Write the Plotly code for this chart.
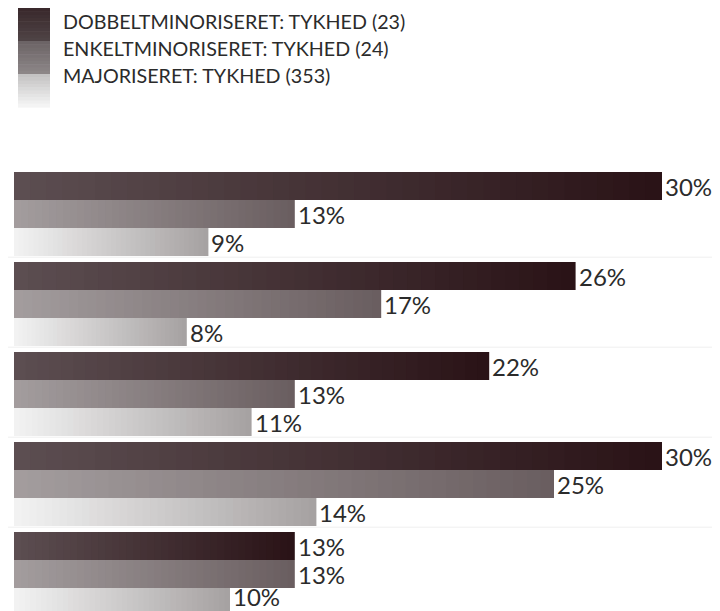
import plotly.graph_objects as go

# ---------------- data ----------------
groups = ["1", "2", "3", "4", "5"]
series_names = [
    "DOBBELTMINORISERET: TYKHED (23)",
    "ENKELTMINORISERET: TYKHED (24)",
    "MAJORISERET: TYKHED (353)",
]
dobbelt = [30, 26, 22, 30, 13]
enkelt = [13, 17, 13, 25, 13]
major = [9, 8, 11, 14, 10]

# ---------------- style ----------------
PAGE_OFF = 8                      # browser body margin
W, H = 720 - PAGE_OFF, 611 - PAGE_OFF
ML, MR, MT, MB = 14 - PAGE_OFF, 0, 169 - PAGE_OFF, 0
PX_PER_PCT = 21.6
GROUP_PX = 90.0
BAR_PX = 28.0
LABEL_SIZE = 24

# (left colour, right colour) for each series gradient
grad = [
    ((0x5d, 0x4f, 0x52), (0x2a, 0x13, 0x17)),
    ((0xa4, 0x9e, 0x9f), (0x6a, 0x5e, 0x60)),
    ((0xf4, 0xf4, 0xf4), (0xa6, 0xa2, 0xa2)),
]
# legend swatch (top colour, bottom colour) per section
swatch = [
    ((0x3a, 0x29, 0x2c), (0x4e, 0x43, 0x45)),
    ((0x6c, 0x64, 0x66), (0x8c, 0x86, 0x87)),
    ((0xc4, 0xc3, 0xc3), (0xf4, 0xf4, 0xf4)),
]
FONT = "Lato"
TXT = "#2b2b2b"
N_STEPS = 40


def mix(c1, c2, f):
    return "rgb(%d,%d,%d)" % tuple(round(a + (b - a) * f) for a, b in zip(c1, c2))


plot_w = W - ML - MR
plot_h = H - MT - MB
x_max = plot_w / PX_PER_PCT
y_bottom = -0.5 + plot_h / GROUP_PX
bar_w = BAR_PX / GROUP_PX
y_idx = list(range(len(groups)))

fig = go.Figure()
annotations = []
series = [dobbelt, enkelt, major]
for j, (vals, name) in enumerate(zip(series, series_names)):
    left, right = grad[j]
    offset = -1.5 * bar_w + j * bar_w
    for k in range(N_STEPS):
        f = 1 - k / N_STEPS
        xs = [v * f for v in vals]
        if k == 0:
            kw = dict(hovertemplate=name + ": %{x}%<extra></extra>")
        else:
            kw = dict(hoverinfo="skip")
        fig.add_trace(go.Bar(
            x=xs, y=y_idx, orientation="h",
            width=bar_w, offset=offset,
            marker=dict(color=mix(left, right, f), line=dict(width=0)),
            name=name, showlegend=False, **kw,
        ))
    # value labels just right of each bar, kept inside the figure
    for i, v in enumerate(vals):
        yc = y_idx[i] + offset + bar_w / 2
        yc_px = MT + (yc + 0.5) * GROUP_PX
        overflow = yc_px + LABEL_SIZE * 0.62 - H
        annotations.append(dict(
            xref="x", yref="y", x=v, y=yc, xanchor="left", yanchor="middle",
            xshift=1, yshift=max(0, overflow), showarrow=False,
            text=f"{v}%", font=dict(family=FONT, size=LABEL_SIZE, color=TXT)))


def px_x(px):
    """reference-picture x pixel -> paper coordinate"""
    return (px - PAGE_OFF - ML) / plot_w


def px_y(py):
    """reference-picture y pixel -> paper coordinate"""
    return 1 - (py - PAGE_OFF - MT) / plot_h


shapes = []
# faint separators between groups
for i in range(len(groups)):
    shapes.append(dict(type="line", xref="paper", yref="y", layer="below",
                       x0=px_x(0), x1=px_x(712), y0=i - 0.5 - 0.02, y1=i - 0.5 - 0.02,
                       line=dict(color="#efefef", width=1)))

# custom legend swatch (vertical gradient block)
sw_top, sec_h, strips = 8, 33, 10
for j in range(3):
    top_c, bot_c = swatch[j]
    for s in range(strips):
        y0 = sw_top + j * sec_h + s * sec_h / strips
        y1 = y0 + sec_h / strips + 0.6
        shapes.append(dict(type="rect", xref="paper", yref="paper",
                           x0=px_x(18), x1=px_x(50), y0=px_y(y1), y1=px_y(y0),
                           fillcolor=mix(top_c, bot_c, s / (strips - 1)),
                           line=dict(width=0)))

for j, name in enumerate(series_names):
    annotations.append(dict(xref="paper", yref="paper", x=px_x(61), y=px_y(21 + j * 27),
                            xanchor="left", yanchor="middle", showarrow=False,
                            text=name, font=dict(family=FONT, size=19.7, color=TXT)))

fig.update_layout(
    width=W, height=H,
    margin=dict(l=ML, r=MR, t=MT, b=MB),
    barmode="overlay",
    paper_bgcolor="white", plot_bgcolor="white",
    xaxis=dict(range=[0, x_max], visible=False, fixedrange=True),
    yaxis=dict(range=[y_bottom, -0.5], visible=False, fixedrange=True),
    shapes=shapes, annotations=annotations,
    showlegend=False,
    font=dict(family=FONT, color=TXT),
)

fig.write_html("out.html")
